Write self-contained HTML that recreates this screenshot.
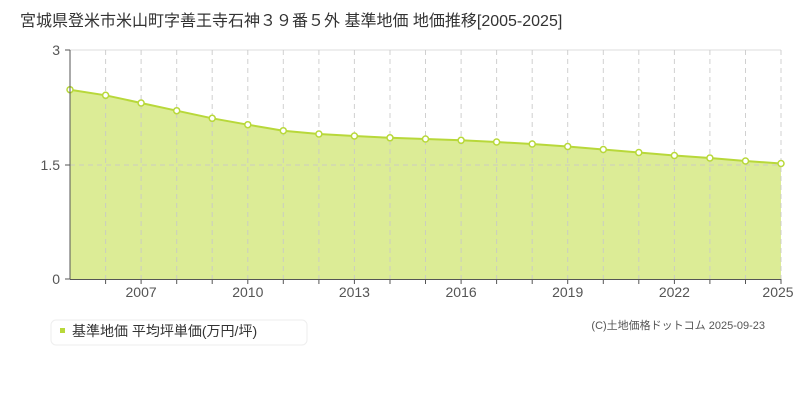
<!DOCTYPE html>
<html><head><meta charset="utf-8"><style>
body{margin:0;width:800px;height:400px;background:#fff;overflow:hidden}
text{font-family:"Liberation Sans","Noto Sans CJK JP",sans-serif}
</style></head><body>
<svg width="800" height="400" xmlns="http://www.w3.org/2000/svg">
<text x="20" y="26" font-size="16" fill="#333">宮城県登米市米山町字善王寺石神３９番５外 基準地価 地価推移[2005-2025]</text>
<line x1="70" y1="50" x2="781" y2="50" stroke="#ddd" stroke-width="1"/>
<polygon fill="#dcec96" points="70,279 70,89.7 105.6,95.3 141.1,103 176.7,110.7 212.2,118.3 247.8,124.7 283.3,130.7 318.9,134 354.4,136 390,137.8 425.5,139 461.1,140.3 496.6,142 532.2,144 567.7,146.5 603.3,149.5 638.8,152.5 674.4,155.5 709.9,158 745.5,161 781,163.5 781,279"/>
<g stroke="#c8c8c8" stroke-opacity="0.85" stroke-dasharray="5,4" stroke-width="1">
<line x1="105.6" y1="50" x2="105.6" y2="279"/><line x1="141.1" y1="50" x2="141.1" y2="279"/><line x1="176.7" y1="50" x2="176.7" y2="279"/><line x1="212.2" y1="50" x2="212.2" y2="279"/><line x1="247.8" y1="50" x2="247.8" y2="279"/><line x1="283.3" y1="50" x2="283.3" y2="279"/><line x1="318.9" y1="50" x2="318.9" y2="279"/><line x1="354.4" y1="50" x2="354.4" y2="279"/><line x1="390" y1="50" x2="390" y2="279"/><line x1="425.5" y1="50" x2="425.5" y2="279"/><line x1="461.1" y1="50" x2="461.1" y2="279"/><line x1="496.6" y1="50" x2="496.6" y2="279"/><line x1="532.2" y1="50" x2="532.2" y2="279"/><line x1="567.7" y1="50" x2="567.7" y2="279"/><line x1="603.3" y1="50" x2="603.3" y2="279"/><line x1="638.8" y1="50" x2="638.8" y2="279"/><line x1="674.4" y1="50" x2="674.4" y2="279"/><line x1="709.9" y1="50" x2="709.9" y2="279"/><line x1="745.5" y1="50" x2="745.5" y2="279"/><line x1="781" y1="50" x2="781" y2="279"/>
<line x1="70" y1="165" x2="781" y2="165"/>
</g>
<polyline fill="none" stroke="#b8d83a" stroke-width="2" points="70,89.7 105.6,95.3 141.1,103 176.7,110.7 212.2,118.3 247.8,124.7 283.3,130.7 318.9,134 354.4,136 390,137.8 425.5,139 461.1,140.3 496.6,142 532.2,144 567.7,146.5 603.3,149.5 638.8,152.5 674.4,155.5 709.9,158 745.5,161 781,163.5"/>
<g fill="#fff" stroke="#b8d83a" stroke-width="1.5">
<circle cx="70" cy="89.7" r="3"/><circle cx="105.6" cy="95.3" r="3"/><circle cx="141.1" cy="103" r="3"/><circle cx="176.7" cy="110.7" r="3"/><circle cx="212.2" cy="118.3" r="3"/><circle cx="247.8" cy="124.7" r="3"/><circle cx="283.3" cy="130.7" r="3"/><circle cx="318.9" cy="134" r="3"/><circle cx="354.4" cy="136" r="3"/><circle cx="390" cy="137.8" r="3"/><circle cx="425.5" cy="139" r="3"/><circle cx="461.1" cy="140.3" r="3"/><circle cx="496.6" cy="142" r="3"/><circle cx="532.2" cy="144" r="3"/><circle cx="567.7" cy="146.5" r="3"/><circle cx="603.3" cy="149.5" r="3"/><circle cx="638.8" cy="152.5" r="3"/><circle cx="674.4" cy="155.5" r="3"/><circle cx="709.9" cy="158" r="3"/><circle cx="745.5" cy="161" r="3"/><circle cx="781" cy="163.5" r="3"/>
</g>
<g stroke="#555" stroke-width="1">
<line x1="70" y1="50" x2="70" y2="279"/><line x1="70" y1="279.5" x2="781" y2="279.5"/>
<line x1="65" y1="50" x2="70" y2="50"/><line x1="65" y1="165" x2="70" y2="165"/><line x1="65" y1="279" x2="70" y2="279"/>
<line x1="105.6" y1="279" x2="105.6" y2="284"/><line x1="141.1" y1="279" x2="141.1" y2="284"/><line x1="176.7" y1="279" x2="176.7" y2="284"/><line x1="212.2" y1="279" x2="212.2" y2="284"/><line x1="247.8" y1="279" x2="247.8" y2="284"/><line x1="283.3" y1="279" x2="283.3" y2="284"/><line x1="318.9" y1="279" x2="318.9" y2="284"/><line x1="354.4" y1="279" x2="354.4" y2="284"/><line x1="390" y1="279" x2="390" y2="284"/><line x1="425.5" y1="279" x2="425.5" y2="284"/><line x1="461.1" y1="279" x2="461.1" y2="284"/><line x1="496.6" y1="279" x2="496.6" y2="284"/><line x1="532.2" y1="279" x2="532.2" y2="284"/><line x1="567.7" y1="279" x2="567.7" y2="284"/><line x1="603.3" y1="279" x2="603.3" y2="284"/><line x1="638.8" y1="279" x2="638.8" y2="284"/><line x1="674.4" y1="279" x2="674.4" y2="284"/><line x1="709.9" y1="279" x2="709.9" y2="284"/><line x1="745.5" y1="279" x2="745.5" y2="284"/><line x1="781" y1="279" x2="781" y2="284"/>
</g>
<g font-size="14" fill="#555" text-anchor="end">
<text x="60" y="55">3</text><text x="60" y="170">1.5</text><text x="60" y="284">0</text>
</g>
<g font-size="14" fill="#555" text-anchor="middle">
<text x="141.1" y="297">2007</text><text x="247.8" y="297">2010</text><text x="354.4" y="297">2013</text><text x="461.1" y="297">2016</text><text x="567.7" y="297">2019</text><text x="674.4" y="297">2022</text><text x="778" y="297">2025</text>
</g>
<rect x="51" y="320" width="256" height="25" rx="5" fill="#fff" stroke="#eee"/>
<rect x="60" y="328" width="5" height="5" fill="#b8d83a"/>
<text x="72" y="336" font-size="14" fill="#333">基準地価 平均坪単価(万円/坪)</text>
<text x="765" y="329" font-size="11" fill="#555" text-anchor="end" font-family="Liberation Mono,Noto Sans CJK JP,monospace">(C)土地価格ドットコム 2025-09-23</text>
</svg>
</body></html>
